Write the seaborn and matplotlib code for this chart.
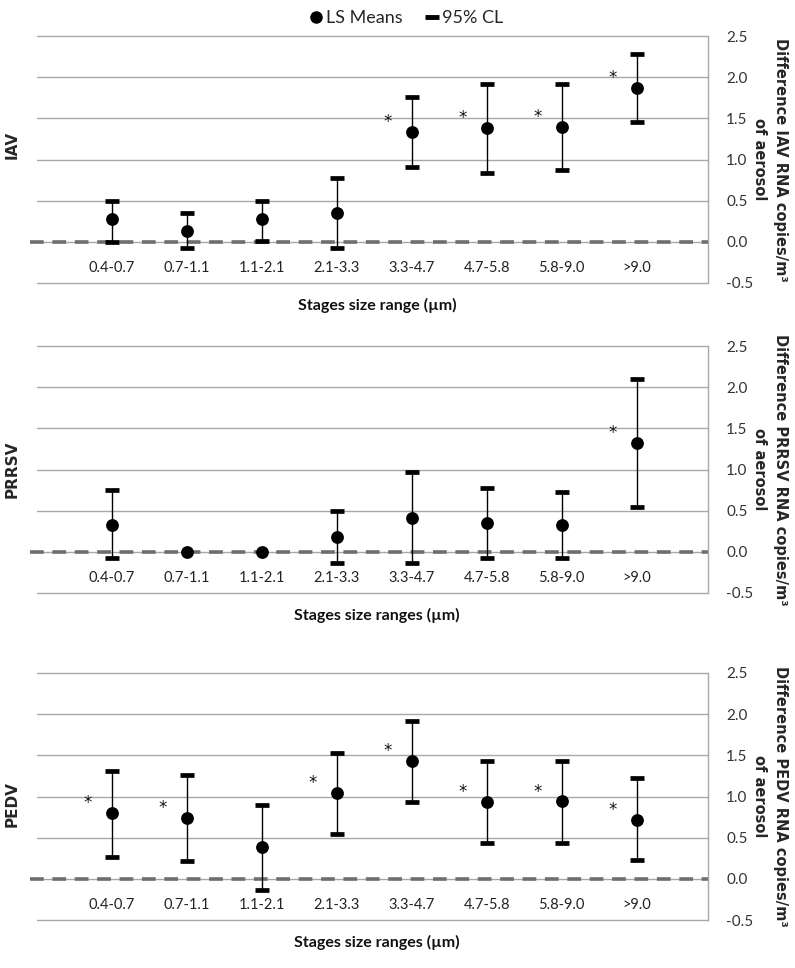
import numpy as np
import pandas as pd
import matplotlib
matplotlib.use("Agg")
import matplotlib.pyplot as plt
from matplotlib.lines import Line2D
from matplotlib import font_manager
import seaborn as sns

categories = ["0.4-0.7", "0.7-1.1", "1.1-2.1", "2.1-3.3", "3.3-4.7", "4.7-5.8", "5.8-9.0", ">9.0"]

iav_mean = [0.28, 0.13, 0.28, 0.35, 1.33, 1.38, 1.40, 1.87]
iav_lower = [0.00, -0.07, 0.01, -0.07, 0.91, 0.84, 0.87, 1.46]
iav_upper = [0.49, 0.35, 0.50, 0.78, 1.76, 1.92, 1.92, 2.28]
iav_sig = [False, False, False, False, True, True, True, True]

prrsv_mean = [0.33, 0.00, 0.00, 0.18, 0.41, 0.35, 0.32, 1.32]
prrsv_lower = [-0.08, np.nan, np.nan, -0.14, -0.14, -0.08, -0.08, 0.55]
prrsv_upper = [0.75, np.nan, np.nan, 0.49, 0.97, 0.78, 0.73, 2.10]
prrsv_sig = [False, False, False, False, False, False, False, True]

pedv_mean = [0.80, 0.74, 0.39, 1.04, 1.43, 0.93, 0.94, 0.72]
pedv_lower = [0.27, 0.22, -0.13, 0.54, 0.93, 0.43, 0.44, 0.23]
pedv_upper = [1.31, 1.26, 0.90, 1.53, 1.92, 1.43, 1.43, 1.22]
pedv_sig = [True, True, False, True, True, True, True, True]

virus_names = ["IAV", "PRRSV", "PEDV"]
x_titles = ["Stages size range (µm)", "Stages size ranges (µm)", "Stages size ranges (µm)"]
y_tick_values = [-0.5, 0.0, 0.5, 1.0, 1.5, 2.0, 2.5]

sns.set_theme(style="white")
plt.rcParams["font.family"] = ["DejaVu Sans"]

available = {f.name for f in font_manager.fontManager.ttflist}
hum_name = "DejaVu Sans"
for cand in ["Lato", "Open Sans", "Liberation Sans"]:
    if cand in available:
        hum_name = cand
        break
HUM = [hum_name, "DejaVu Sans"]

fig = plt.figure(figsize=(7.95, 9.68), dpi=100)
H = 968.0
W = 795.0
left_px, right_px = 37, 708
panel_tops = [36, 346, 673]
panel_h = 247

data_sets = [
    (iav_mean, iav_lower, iav_upper, iav_sig),
    (prrsv_mean, prrsv_lower, prrsv_upper, prrsv_sig),
    (pedv_mean, pedv_lower, pedv_upper, pedv_sig),
]
ylab_pos = [0.56, 0.5, 0.47]

grid_col = "#a8a8a8"
for k, (mean, lower, upper, sig) in enumerate(data_sets):
    top = panel_tops[k]
    ax = fig.add_axes([left_px / W, 1 - (top + panel_h) / H, (right_px - left_px) / W, panel_h / H])
    df = pd.DataFrame({"x": np.arange(len(categories)), "cat": categories,
                       "mean": mean, "lower": lower, "upper": upper, "sig": sig})
    ax.set_xlim(-1, 7.95)
    ax.set_ylim(-0.5, 2.5)
    ax.set_yticks(y_tick_values)
    ax.set_yticklabels([f"{v:.1f}" for v in y_tick_values], family=HUM, fontsize=11, color="#333333")
    ax.yaxis.tick_right()
    ax.tick_params(axis="y", length=0, pad=13)
    ax.set_xticks([])
    ax.grid(axis="y", color=grid_col, lw=1)
    for gl in ax.get_ygridlines():
        gl.set_clip_on(False)
    ax.set_axisbelow(True)
    for s in ["top", "left", "bottom"]:
        ax.spines[s].set_visible(False)
    ax.spines["right"].set_color(grid_col)
    ax.spines["right"].set_linewidth(1)

    ax.axhline(0, xmin=-0.01, xmax=1.0, color="#6e6e6e", lw=2.6, ls=(0, (3.8, 2.4)),
               zorder=2, clip_on=False)

    eb = df.dropna(subset=["lower", "upper"])
    ax.errorbar(eb["x"], eb["mean"], yerr=[eb["mean"] - eb["lower"], eb["upper"] - eb["mean"]],
                fmt="none", ecolor="black", elinewidth=1, capsize=5.3, capthick=3.4, zorder=3)
    sns.scatterplot(data=df, x="x", y="mean", color="black", s=85, marker="o",
                    edgecolor="black", linewidth=0, ax=ax, legend=False, zorder=4)
    for _, r in df[df["sig"]].iterrows():
        ax.text(r["x"] - 0.32, r["mean"] + 0.12, "*", ha="center", va="center",
                fontsize=12, family="DejaVu Sans", color="#111111")

    sec = ax.secondary_xaxis(1 / 6)
    sec.set_xticks(np.arange(len(categories)))
    sec.set_xticklabels(categories, family=HUM, fontsize=10.5, color="#222222")
    sec.tick_params(length=0, pad=14)
    for s in sec.spines.values():
        s.set_visible(False)

    ax.set_xlabel("")
    ax.set_ylabel("")
    ax.text(0.507, -0.09, x_titles[k], transform=ax.transAxes, ha="center", va="center",
            family=HUM, fontweight="bold", fontsize=11.5, color="#111111")
    ax.text(1.092, 0.5, f"Difference {virus_names[k]} RNA copies/m³\nof aerosol",
            transform=ax.transAxes, rotation=270, ha="center", va="center",
            multialignment="center", fontsize=10.5, fontweight="bold", linespacing=1.5)
    ax.text(-0.037, ylab_pos[k], virus_names[k], transform=ax.transAxes, rotation=90,
            ha="center", va="center", fontsize=11, fontweight="bold")

handles = [
    Line2D([], [], color="black", marker="o", ls="none", markersize=8),
    Line2D([], [], color="black", marker="_", ls="none", markersize=10, markeredgewidth=3.5),
]
leg = fig.legend(handles, ["LS Means", "95% CL"], loc="upper center", bbox_to_anchor=(0.51, 1.006),
                 ncol=2, frameon=False, handletextpad=0.1, columnspacing=1.2, handlelength=0.9,
                 prop={"family": HUM, "size": 13})

fig.savefig("out.png", dpi=100)
